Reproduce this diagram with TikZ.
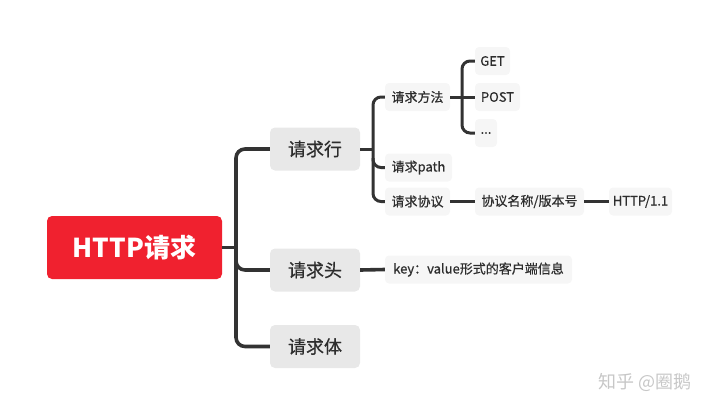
\documentclass[tikz,border=0pt]{standalone}
\usepackage{fontspec}
\setmainfont{Noto Sans CJK SC}
\newfontfamily\medfont[FakeBold=0.6]{Noto Sans CJK SC}
\definecolor{rootred}{RGB}{240,33,47}
\definecolor{lonefill}{RGB}{232,232,232}
\definecolor{ltwofill}{RGB}{246,246,246}
\definecolor{txt}{RGB}{45,45,45}
\definecolor{conncol}{RGB}{51,51,51}
\begin{document}
\begin{tikzpicture}[x=1pt,y=-1pt,
  rootbox/.style={fill=rootred,rounded corners=5pt,text=white,font=\fontsize{26}{30}\selectfont\bfseries,minimum width=175pt,minimum height=63pt,inner sep=0pt},
  lonebox/.style={fill=lonefill,rounded corners=5pt,text=txt,font=\medfont\fontsize{18}{22}\selectfont,minimum width=90pt,minimum height=43pt,inner sep=0pt},
  ltwobox/.style={fill=ltwofill,rounded corners=4pt,text=txt,font=\medfont\fontsize{13}{16}\selectfont,minimum height=28pt,inner sep=0pt},
  mainconn/.style={draw=conncol,line width=3.6pt,rounded corners=9pt},
  subconn/.style={draw=conncol,line width=3pt,rounded corners=8pt}]
\useasboundingbox (0,0) rectangle (720,416);
% nodes
\node[rootbox] (root) at (134.5,247.5) {HTTP请求};
\node[lonebox] (row) at (315,149) {请求行};
\node[lonebox] (head) at (315,270) {请求头};
\node[lonebox] (body) at (315,346.5) {请求体};
\node[ltwobox,minimum width=65pt] (method) at (417.5,97) {请求方法};
\node[ltwobox,minimum width=67pt] (path) at (418.5,167.5) {请求path};
\node[ltwobox,minimum width=65pt] (proto) at (417.5,201.5) {请求协议};
\node[ltwobox,minimum width=35pt] (get) at (492.5,61) {GET};
\node[ltwobox,minimum width=45pt] (post) at (497.5,97) {POST};
\node[ltwobox,minimum width=22pt] (dots) at (486,133) {...};
\node[ltwobox,minimum width=109pt] (pname) at (529.5,201.5) {协议名称/版本号};
\node[ltwobox,minimum width=63pt] (ver) at (640.5,201.5) {HTTP/1.1};
\node[ltwobox,minimum width=187pt] (kv) at (478.5,269.5) {key：value形式的客户端信息};
% watermark
\node[text=black!22,font=\fontsize{18}{22}\selectfont] (wm) at (645,382) {知乎 @圈鹅};
% main connectors
\coordinate (mj) at (236,247.5);
\draw[mainconn] (root.east) -- (mj);
\draw[mainconn] (row.west) -| (mj) |- (body.west);
\draw[mainconn] (236,255) |- (head.west);
% request line connectors
\coordinate (rj) at (373,149);
\draw[subconn] (row.east) -- (rj);
\draw[subconn] (method.west) -| (rj) |- (proto.west);
\draw[subconn] (373,158) |- (path.west);
% method connectors
\coordinate (tj) at (462,97);
\draw[subconn] (method.east) -- (post.west);
\draw[subconn] (get.west) -| (tj) |- (dots.west);
% protocol chain
\draw[subconn] (proto.east) -- (pname.west);
\draw[subconn] (pname.east) -- (ver.west);
% header
\draw[mainconn] (head.east) -- (kv.west);
\end{tikzpicture}
\end{document}
